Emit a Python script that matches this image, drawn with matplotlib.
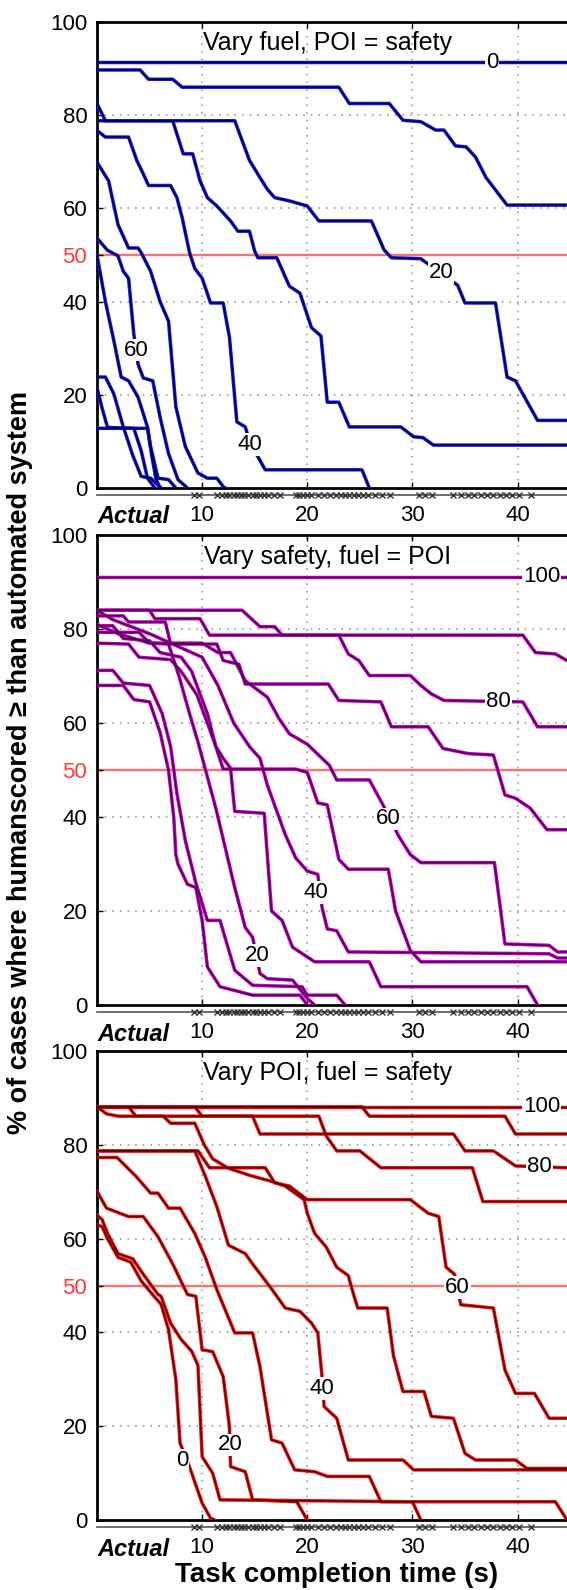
import matplotlib
matplotlib.use("Agg")
import matplotlib.pyplot as plt
import matplotlib.transforms as mtransforms

plt.rcParams['font.family'] = ['Liberation Sans', 'DejaVu Sans']

# ---- panel 1: vary fuel, POI = safety (curve per fuel weight) ----
fuel_0 = [(0, 91.3), (44.7, 91.3)]
fuel_10 = [(0, 89.7), (4.1, 89.7), (4.9, 87.7), (7.2, 87.7), (8.1, 86.0), (23.0, 86.0), (24.0, 82.5),
           (27.8, 82.5), (29.1, 78.9), (30.8, 78.6), (32.2, 76.8), (33.0, 76.8), (34.1, 73.4), (35.1, 73.2),
           (36.0, 71.0), (37.0, 66.6), (39.0, 60.7), (44.7, 60.7)]
fuel_20 = [(0, 82.5), (0.8, 78.8), (13.1, 78.8), (14.5, 70.3), (15.5, 66.6), (16.2, 64.1), (16.9, 62.3),
           (18.3, 61.6), (20.0, 60.5), (21.1, 57.3), (26.1, 57.3), (27.3, 51.1), (28.0, 49.4), (30.8, 49.2),
           (31.4, 48.2), (34.3, 43.5), (35.0, 39.7), (37.9, 39.7), (39.0, 23.8), (39.8, 23.0), (41.9, 14.5),
           (44.7, 14.5)]
fuel_30 = [(0, 78.8), (7.2, 78.8), (8.2, 71.7), (9.1, 71.7), (9.8, 65.9), (10.5, 62.3), (11.4, 60.5),
           (12.7, 57.3), (13.4, 55.1), (14.5, 55.1), (15.0, 50.8), (15.3, 49.4), (17.1, 49.4), (18.3, 43.3),
           (19.3, 41.8), (20.4, 34.4), (21.3, 32.6), (21.9, 18.4), (23.0, 18.4), (24.0, 13.1), (28.9, 13.1),
           (30.1, 11.0), (31.0, 10.8), (32.0, 9.2), (44.7, 9.2)]
fuel_40 = [(0, 76.7), (0.8, 75.3), (3.0, 75.3), (3.8, 70.2), (4.4, 67.4), (4.9, 64.9), (7.0, 64.9),
           (7.6, 62.3), (8.1, 58.0), (8.8, 50.5), (9.3, 47.1), (10.0, 45.0), (10.8, 39.7), (12.0, 39.7),
           (12.6, 32.3), (13.3, 14.2), (14.1, 13.1), (14.6, 9.4), (15.3, 6.7), (16.0, 3.9), (25.2, 3.9),
           (25.9, 0)]
fuel_50 = [(0, 69.9), (1.1, 65.9), (2.0, 56.5), (3.0, 51.5), (3.9, 51.5), (4.2, 50.5), (5.1, 46.5),
           (6.0, 40.0), (6.8, 35.8), (7.5, 17.4), (8.4, 8.9), (9.6, 3.2), (10.5, 2.1), (11.4, 2.1),
           (12.0, 0.3), (12.2, 0)]
fuel_60 = [(0, 53.6), (1.0, 51.0), (2.0, 49.8), (2.5, 46.5), (3.0, 45.0), (3.5, 33.0), (3.9, 26.6),
           (4.4, 23.6), (5.3, 23.0), (6.0, 15.2), (6.8, 7.4), (7.7, 1.8), (8.6, 0)]
fuel_70 = [(0, 50.0), (0.8, 40.0), (1.6, 31.6), (2.3, 23.8), (3.0, 23.0), (3.9, 19.5), (4.8, 13.1),
           (5.1, 8.9), (5.8, 2.1), (6.8, 1.8), (7.5, 0)]
fuel_80 = [(0, 23.8), (0.8, 23.8), (1.6, 20.2), (2.5, 13.1), (3.4, 7.0), (4.2, 2.5), (5.1, 2.1), (6.1, 0)]
fuel_90 = [(0, 21.5), (0.5, 17.0), (1.0, 13.0), (3.5, 12.8), (4.2, 8.0), (4.8, 2.1), (5.5, 0)]
fuel_100 = [(0, 12.8), (4.8, 12.8), (5.2, 7.0), (5.6, 2.0), (6.0, 0)]
fuel_labels = [(0, 37.6, 91.3), (20, 32.7, 46.3), (40, 14.5, 9.3), (60, 3.75, 29.6)]

# ---- panel 2: vary safety, fuel = POI ----
safety_100 = [(0, 91.1), (44.7, 91.1)]
safety_90 = [(0, 84.0), (13.8, 84.0), (15.5, 80.5), (16.9, 80.5), (17.6, 78.7), (40.5, 78.7),
             (41.7, 75.0), (43.6, 74.7), (44.7, 73.3)]
safety_80 = [(0, 84.0), (5.0, 84.0), (5.5, 82.2), (9.8, 82.2), (10.7, 78.7), (23.0, 78.7), (23.9, 74.7),
             (24.9, 73.3), (25.9, 70.1), (29.8, 70.1), (30.8, 68.0), (31.8, 66.2), (33.0, 64.8),
             (40.5, 64.5), (41.9, 59.2), (44.7, 59.2)]
safety_70 = [(0, 82.8), (2.5, 82.8), (3.0, 81.5), (6.5, 81.5), (7.0, 76.8), (11.4, 76.8), (12.0, 73.3),
             (13.5, 72.5), (14.1, 68.3), (22.0, 68.3), (23.0, 64.8), (27.0, 64.5), (28.0, 59.2),
             (31.5, 59.2), (32.9, 54.6), (35.3, 53.5), (37.7, 53.2), (38.8, 44.7), (39.8, 44.0),
             (41.2, 41.9), (42.8, 37.3), (44.7, 37.3)]
safety_60 = [(0, 79.3), (4.0, 79.3), (5.0, 77.0), (10.0, 77.0), (11.5, 75.0), (12.7, 75.0), (14.1, 69.0),
             (16.2, 65.5), (17.3, 61.0), (18.3, 57.7), (20.0, 55.5), (22.1, 51.0), (22.8, 47.9),
             (25.9, 47.9), (27.1, 43.0), (28.7, 35.9), (29.8, 32.0), (30.8, 30.3), (37.8, 30.3),
             (38.8, 13.0), (43.0, 12.7), (43.8, 11.3), (44.7, 11.3)]
safety_50 = [(0, 80.7), (1.5, 80.7), (2.5, 78.0), (5.0, 77.5), (6.0, 75.0), (8.0, 74.0), (9.0, 71.0),
             (10.5, 62.0), (11.3, 55.0), (12.0, 50.2), (18.9, 50.2), (20.0, 49.5), (21.0, 43.0),
             (21.9, 42.6), (23.0, 31.0), (23.9, 28.9), (27.7, 28.9), (28.4, 20.0), (29.8, 11.6),
             (30.8, 9.2), (44.7, 9.2)]
safety_40 = [(0, 84.0), (1.5, 82.0), (5.0, 79.0), (8.0, 76.0), (10.0, 74.0), (11.5, 68.0), (13.0, 60.0),
             (14.5, 55.0), (15.5, 52.5), (16.2, 46.8), (17.9, 36.3), (18.9, 31.3), (20.0, 28.5),
             (21.0, 27.8), (21.4, 20.8), (21.9, 16.2), (22.8, 15.8), (23.9, 11.3), (43.0, 10.9),
             (43.8, 10.0), (44.7, 10.0)]
safety_30 = [(0, 77.0), (3.0, 76.8), (4.0, 74.0), (7.0, 73.5), (8.0, 71.0), (9.5, 66.0), (10.5, 60.0),
             (11.3, 55.0), (12.0, 52.5), (12.7, 50.4), (13.1, 41.2), (15.9, 40.8), (16.6, 20.0),
             (17.6, 18.0), (18.6, 12.3), (20.7, 9.2), (25.9, 9.2), (27.0, 3.9), (40.9, 3.9), (41.9, 0)]
safety_20 = [(0, 81.0), (2.0, 79.0), (5.0, 77.0), (6.8, 76.8), (7.8, 70.0), (8.8, 62.0), (9.6, 56.0),
             (11.3, 41.9), (13.1, 25.0), (14.1, 16.5), (14.8, 14.4), (15.5, 6.7), (16.2, 5.6),
             (18.6, 5.3), (20.0, 1.4), (20.7, 0)]
safety_10 = [(0, 71.2), (1.5, 71.2), (2.5, 68.5), (5.0, 68.0), (6.2, 62.0), (7.0, 55.0), (7.6, 45.0),
             (8.4, 35.0), (9.4, 26.0), (10.5, 18.0), (11.7, 18.0), (13.1, 7.4), (14.8, 4.2), (19.5, 3.9),
             (20.0, 2.1), (22.8, 2.1), (23.6, 0)]
safety_0 = [(0, 68.0), (2.5, 68.0), (3.5, 65.0), (5.0, 64.5), (6.0, 58.0), (6.8, 50.0), (7.3, 40.0),
            (7.5, 32.0), (7.7, 30.0), (8.6, 25.7), (9.4, 25.0), (10.0, 18.0), (10.5, 8.1), (11.7, 3.9),
            (14.8, 2.1), (19.3, 2.1), (20.0, 0)]
safety_labels = [(100, 42.3, 91.1), (80, 38.2, 64.6), (60, 27.7, 39.6), (40, 20.8, 24.0), (20, 15.2, 10.6)]

# ---- panel 3: vary POI, fuel = safety ----
poi_100 = [(0, 88.1), (44.7, 88.1)]
poi_90 = [(0, 88.1), (25.2, 88.1), (25.9, 86.1), (38.8, 86.1), (39.8, 82.3), (44.7, 82.3)]
poi_80 = [(0, 88.1), (9.3, 88.1), (10.0, 86.1), (14.8, 86.1), (15.5, 82.3), (33.9, 82.3), (35.0, 78.7),
          (37.7, 78.7), (39.8, 75.5), (44.7, 75.1)]
poi_70 = [(0, 88.1), (0.9, 86.6), (2.0, 86.1), (21.1, 86.1), (21.8, 81.9), (22.8, 78.7), (25.0, 78.7),
          (27.0, 75.1), (35.7, 75.1), (36.7, 67.9), (44.7, 67.9)]
poi_60 = [(0, 78.7), (9.6, 78.7), (10.7, 75.1), (16.0, 75.1), (16.9, 71.9), (18.3, 71.2), (20.0, 68.3),
          (29.8, 68.3), (31.5, 65.4), (32.5, 64.7), (33.2, 53.9), (34.0, 52.4), (34.6, 45.9), (37.7, 45.2),
          (38.8, 32.0), (39.8, 27.0), (41.6, 27.0), (43.0, 21.7), (44.7, 21.7)]
poi_50 = [(0, 88.1), (3.0, 88.1), (3.7, 86.1), (6.3, 86.1), (7.0, 84.6), (9.3, 84.6), (10.2, 80.0),
          (11.0, 77.0), (12.5, 75.0), (14.5, 73.5), (16.6, 72.2), (17.9, 71.2), (19.7, 68.3), (20.0, 65.4),
          (20.7, 61.1), (21.8, 58.2), (22.8, 53.9), (23.9, 52.1), (24.4, 48.1), (24.8, 45.2), (27.6, 45.2),
          (28.2, 35.0), (29.1, 27.4), (31.1, 27.4), (31.8, 22.1), (33.9, 21.7), (35.0, 14.2), (36.0, 12.8),
          (39.8, 12.8), (40.9, 11.0), (44.7, 11.0)]
poi_40 = [(0, 78.7), (9.3, 78.7), (10.3, 73.3), (11.4, 66.8), (12.5, 58.6), (14.1, 56.8), (14.8, 54.6),
          (16.5, 49.6), (17.9, 45.2), (19.3, 44.5), (20.4, 42.0), (21.0, 39.9), (21.4, 30.6), (21.6, 24.2),
          (22.8, 21.7), (23.9, 12.8), (29.1, 12.8), (30.1, 10.7), (44.7, 10.7)]
poi_30 = [(0, 77.3), (1.9, 77.3), (3.7, 73.3), (5.1, 69.7), (5.8, 69.7), (6.8, 66.5), (7.9, 66.5),
          (9.3, 61.1), (10.3, 56.0), (11.4, 49.1), (13.1, 39.9), (14.8, 39.9), (15.5, 32.7), (16.6, 17.1),
          (17.6, 16.4), (18.8, 10.7), (20.7, 10.3), (21.9, 9.3), (25.9, 9.3), (27.0, 3.9), (43.6, 3.9),
          (44.7, 0)]
poi_20 = [(0, 70.1), (0.9, 66.5), (3.0, 64.7), (4.4, 64.7), (5.8, 60.4), (7.2, 54.6), (8.6, 48.1),
          (9.4, 47.7), (10.0, 36.3), (11.0, 35.9), (12.0, 30.6), (12.6, 19.9), (12.7, 11.4), (14.1, 10.3),
          (14.8, 4.3), (19.0, 3.9), (20.0, 0)]
poi_10 = [(0, 65.0), (0.5, 64.0), (1.0, 61.1), (2.0, 56.8), (3.4, 55.7), (4.4, 52.4), (5.8, 48.1),
          (6.1, 47.7), (7.0, 42.0), (8.0, 38.5), (9.0, 36.0), (9.6, 33.0), (10.0, 13.5), (11.0, 10.0),
          (11.7, 4.3), (30.0, 3.9), (30.8, 0)]
poi_0 = [(0, 63.0), (0.5, 62.5), (1.0, 60.0), (2.0, 56.0), (3.2, 55.0), (4.2, 51.0), (5.5, 47.5),
         (6.1, 46.0), (6.8, 40.6), (7.5, 29.9), (7.9, 16.4), (8.9, 10.7), (10.0, 3.6), (10.8, 0.4), (11.2, 0)]
poi_labels = [(100, 42.3, 88.1), (80, 42.1, 75.3), (60, 34.3, 49.6), (40, 21.4, 28.1), (20, 12.7, 16.0),
              (0, 8.1, 12.8)]

# actual completion times (shown as x marks under each panel)
actual_times = [9.2, 9.7, 11.4, 11.9, 12.3, 12.6, 13.0, 13.3, 13.7, 14.0, 14.4, 14.8, 15.1, 15.5, 15.9,
                16.3, 16.8, 17.4, 18.9, 19.2, 19.6, 20.0, 20.4, 21.0, 21.6, 22.2, 22.7, 23.2, 23.6, 24.0,
                24.4, 24.8, 25.3, 25.8, 26.4, 27.1, 27.9, 30.6, 31.2, 31.9, 33.9, 34.6, 35.3, 35.9, 36.5,
                37.1, 37.7, 38.3, 38.9, 39.5, 40.1, 41.3]

x_ticks = [10, 20, 30, 40]
y_ticks = [0, 20, 40, 50, 60, 80, 100]
grid_y = [20, 40, 60, 80]
X_MAX = 44.7


def draw_panel(ax, curves, labels, title, edge, core):
    ax.set_xlim(0, X_MAX)
    ax.set_ylim(0, 100)

    # dotted grid + red 50% reference line
    for xv in x_ticks:
        ax.axvline(xv, color='#8c8c8c', lw=1.1, ls=(0, (1, 4)), zorder=1)
    for yv in grid_y:
        ax.axhline(yv, color='#8c8c8c', lw=1.1, ls=(0, (1, 4)), zorder=1)
    ax.axhline(50, color='#ff7070', lw=1.7, zorder=1.5)

    # curves: coloured halo with dark core
    for pts in curves:
        xs = [p[0] for p in pts]
        ys = [p[1] for p in pts]
        ax.plot(xs, ys, color=edge, lw=2.5, zorder=3)
        ax.plot(xs, ys, color=core, lw=1.0, zorder=4)

    # inline contour-style labels
    for val, lx, ly in labels:
        ax.text(lx, ly, str(val), fontsize=16, ha='center', va='center', zorder=6,
                bbox=dict(facecolor='white', edgecolor='none', pad=0.6))

    ax.text(21.9, 95.4, title, fontsize=18, ha='center', va='center', zorder=6)

    ax.set_xticks(x_ticks)
    ax.set_yticks(y_ticks)
    ax.tick_params(axis='both', direction='in', length=4, width=1, labelsize=16)
    ax.tick_params(axis='x', top=True, pad=12)
    ax.tick_params(axis='y', pad=7)
    for lab, val in zip(ax.get_yticklabels(), y_ticks):
        if val == 50:
            lab.set_color('#ff3a3a')
    for side in ['left', 'top', 'bottom']:
        ax.spines[side].set_linewidth(2.0)
    ax.spines['right'].set_visible(False)

    # "Actual" strip under the axis
    trans = mtransforms.blended_transform_factory(ax.transData, ax.transAxes)
    ax.plot([0, X_MAX], [-0.015, -0.015], transform=trans, color='#555555', lw=1.2, clip_on=False)
    ax.plot(actual_times, [-0.015] * len(actual_times), transform=trans, ls='none', marker='x',
            ms=4, mew=1.0, color='#333333', clip_on=False)
    ax.text(0, -0.062, 'Actual', transform=trans, fontsize=17, fontweight='bold', fontstyle='italic',
            ha='left', va='center')


if __name__ == "__main__":
    fig = plt.figure(figsize=(5.67, 15.9), dpi=100)

    left = 97 / 567
    width = 1 - left
    ax1 = fig.add_axes([left, 0.6931, width, 0.2931])
    ax2 = fig.add_axes([left, 0.3679, width, 0.2956])
    ax3 = fig.add_axes([left, 0.0440, width, 0.2950])

    draw_panel(ax1, [fuel_0, fuel_10, fuel_20, fuel_30, fuel_40, fuel_50, fuel_60, fuel_70, fuel_80,
                     fuel_90, fuel_100],
               fuel_labels, 'Vary fuel, POI = safety', '#1414e6', '#000040')
    draw_panel(ax2, [safety_100, safety_90, safety_80, safety_70, safety_60, safety_50, safety_40,
                     safety_30, safety_20, safety_10, safety_0],
               safety_labels, 'Vary safety, fuel = POI', '#c000c0', '#500050')
    draw_panel(ax3, [poi_100, poi_90, poi_80, poi_70, poi_60, poi_50, poi_40, poi_30, poi_20, poi_10,
                     poi_0],
               poi_labels, 'Vary POI, fuel = safety', '#f01010', '#5a0000')

    fig.text(20 / 567, 1 - 762 / 1590, '% of cases where humanscored \u2265 than automated system',
             rotation=90, ha='center', va='center', fontsize=19.5, fontweight='bold')
    fig.text(337 / 567, 1 - 1575 / 1590, 'Task completion time (s)', ha='center', va='center',
             fontsize=20, fontweight='bold')

    fig.savefig('out.png', dpi=100)
